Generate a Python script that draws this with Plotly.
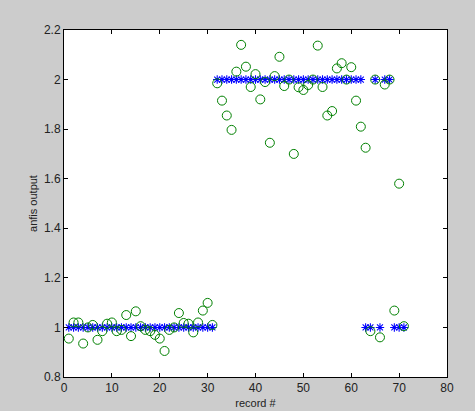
import plotly.graph_objects as go

# target class per record and anfis output
records = list(range(1, 72))
target = [1] * 31 + [2] * 31 + [1, 1, 2, 1, 2, 2, 1, 1, 1]
anfis_out = [
    0.955, 1.02, 1.02, 0.935, 1.00, 1.01, 0.95, 0.985, 1.015, 1.02,
    0.985, 0.99, 1.05, 0.965, 1.065, 1.005, 0.99, 0.985, 0.97, 0.955,
    0.905, 0.99, 1.00, 1.058, 1.018, 1.015, 0.98, 1.02, 1.068, 1.099,
    1.01,
    1.985, 1.915, 1.855, 1.797, 2.032, 2.14, 2.052, 1.97, 2.022, 1.92,
    1.99, 1.745, 2.014, 2.092, 1.974, 2.0, 1.70, 1.969, 1.958, 1.978,
    2.0, 2.137, 1.97, 1.855, 1.873, 2.045, 2.066, 2.0, 2.05, 1.915,
    1.81,
    1.725, 0.985, 2.0, 0.96, 1.98, 2.0, 1.068, 1.58, 1.005,
]

fig = go.Figure()
fig.add_trace(go.Scatter(x=records, y=target, mode="markers",
                         marker=dict(symbol="asterisk-open", size=7,
                                     color="#0000ff", line=dict(width=1.1, color="#0000ff"))))
fig.add_trace(go.Scatter(x=records, y=anfis_out, mode="markers",
                         marker=dict(symbol="circle-open", size=9,
                                     color="#008000", line=dict(width=1, color="#008000"))))

axis_common = dict(showgrid=False, zeroline=False, showline=True, linecolor="#000000",
                   linewidth=1, mirror="ticks", ticks="inside", ticklen=4,
                   tickcolor="#000000", tickfont=dict(family="Arial", size=12, color="#222222"))

fig.update_xaxes(range=[0, 80], dtick=10, tick0=0,
                 title=dict(text="record #", font=dict(family="Arial", size=11, color="#222222"),
                            standoff=4),
                 **axis_common)
fig.update_yaxes(range=[0.8, 2.2], dtick=0.2, tick0=0.8,
                 title=dict(text="anfis output", font=dict(family="Arial", size=11, color="#222222"),
                            standoff=4),
                 **axis_common)

fig.update_layout(width=475, height=411, showlegend=False,
                  paper_bgcolor="#cccccc", plot_bgcolor="#ffffff",
                  margin=dict(l=64, r=28, t=30, b=34, autoexpand=False))

# drop the browser's default body margin so the figure sits at the page corner
fig.write_html("out.html", config={"displayModeBar": False},
               post_script="document.body.style.margin='0';document.body.style.background='#cccccc';")
